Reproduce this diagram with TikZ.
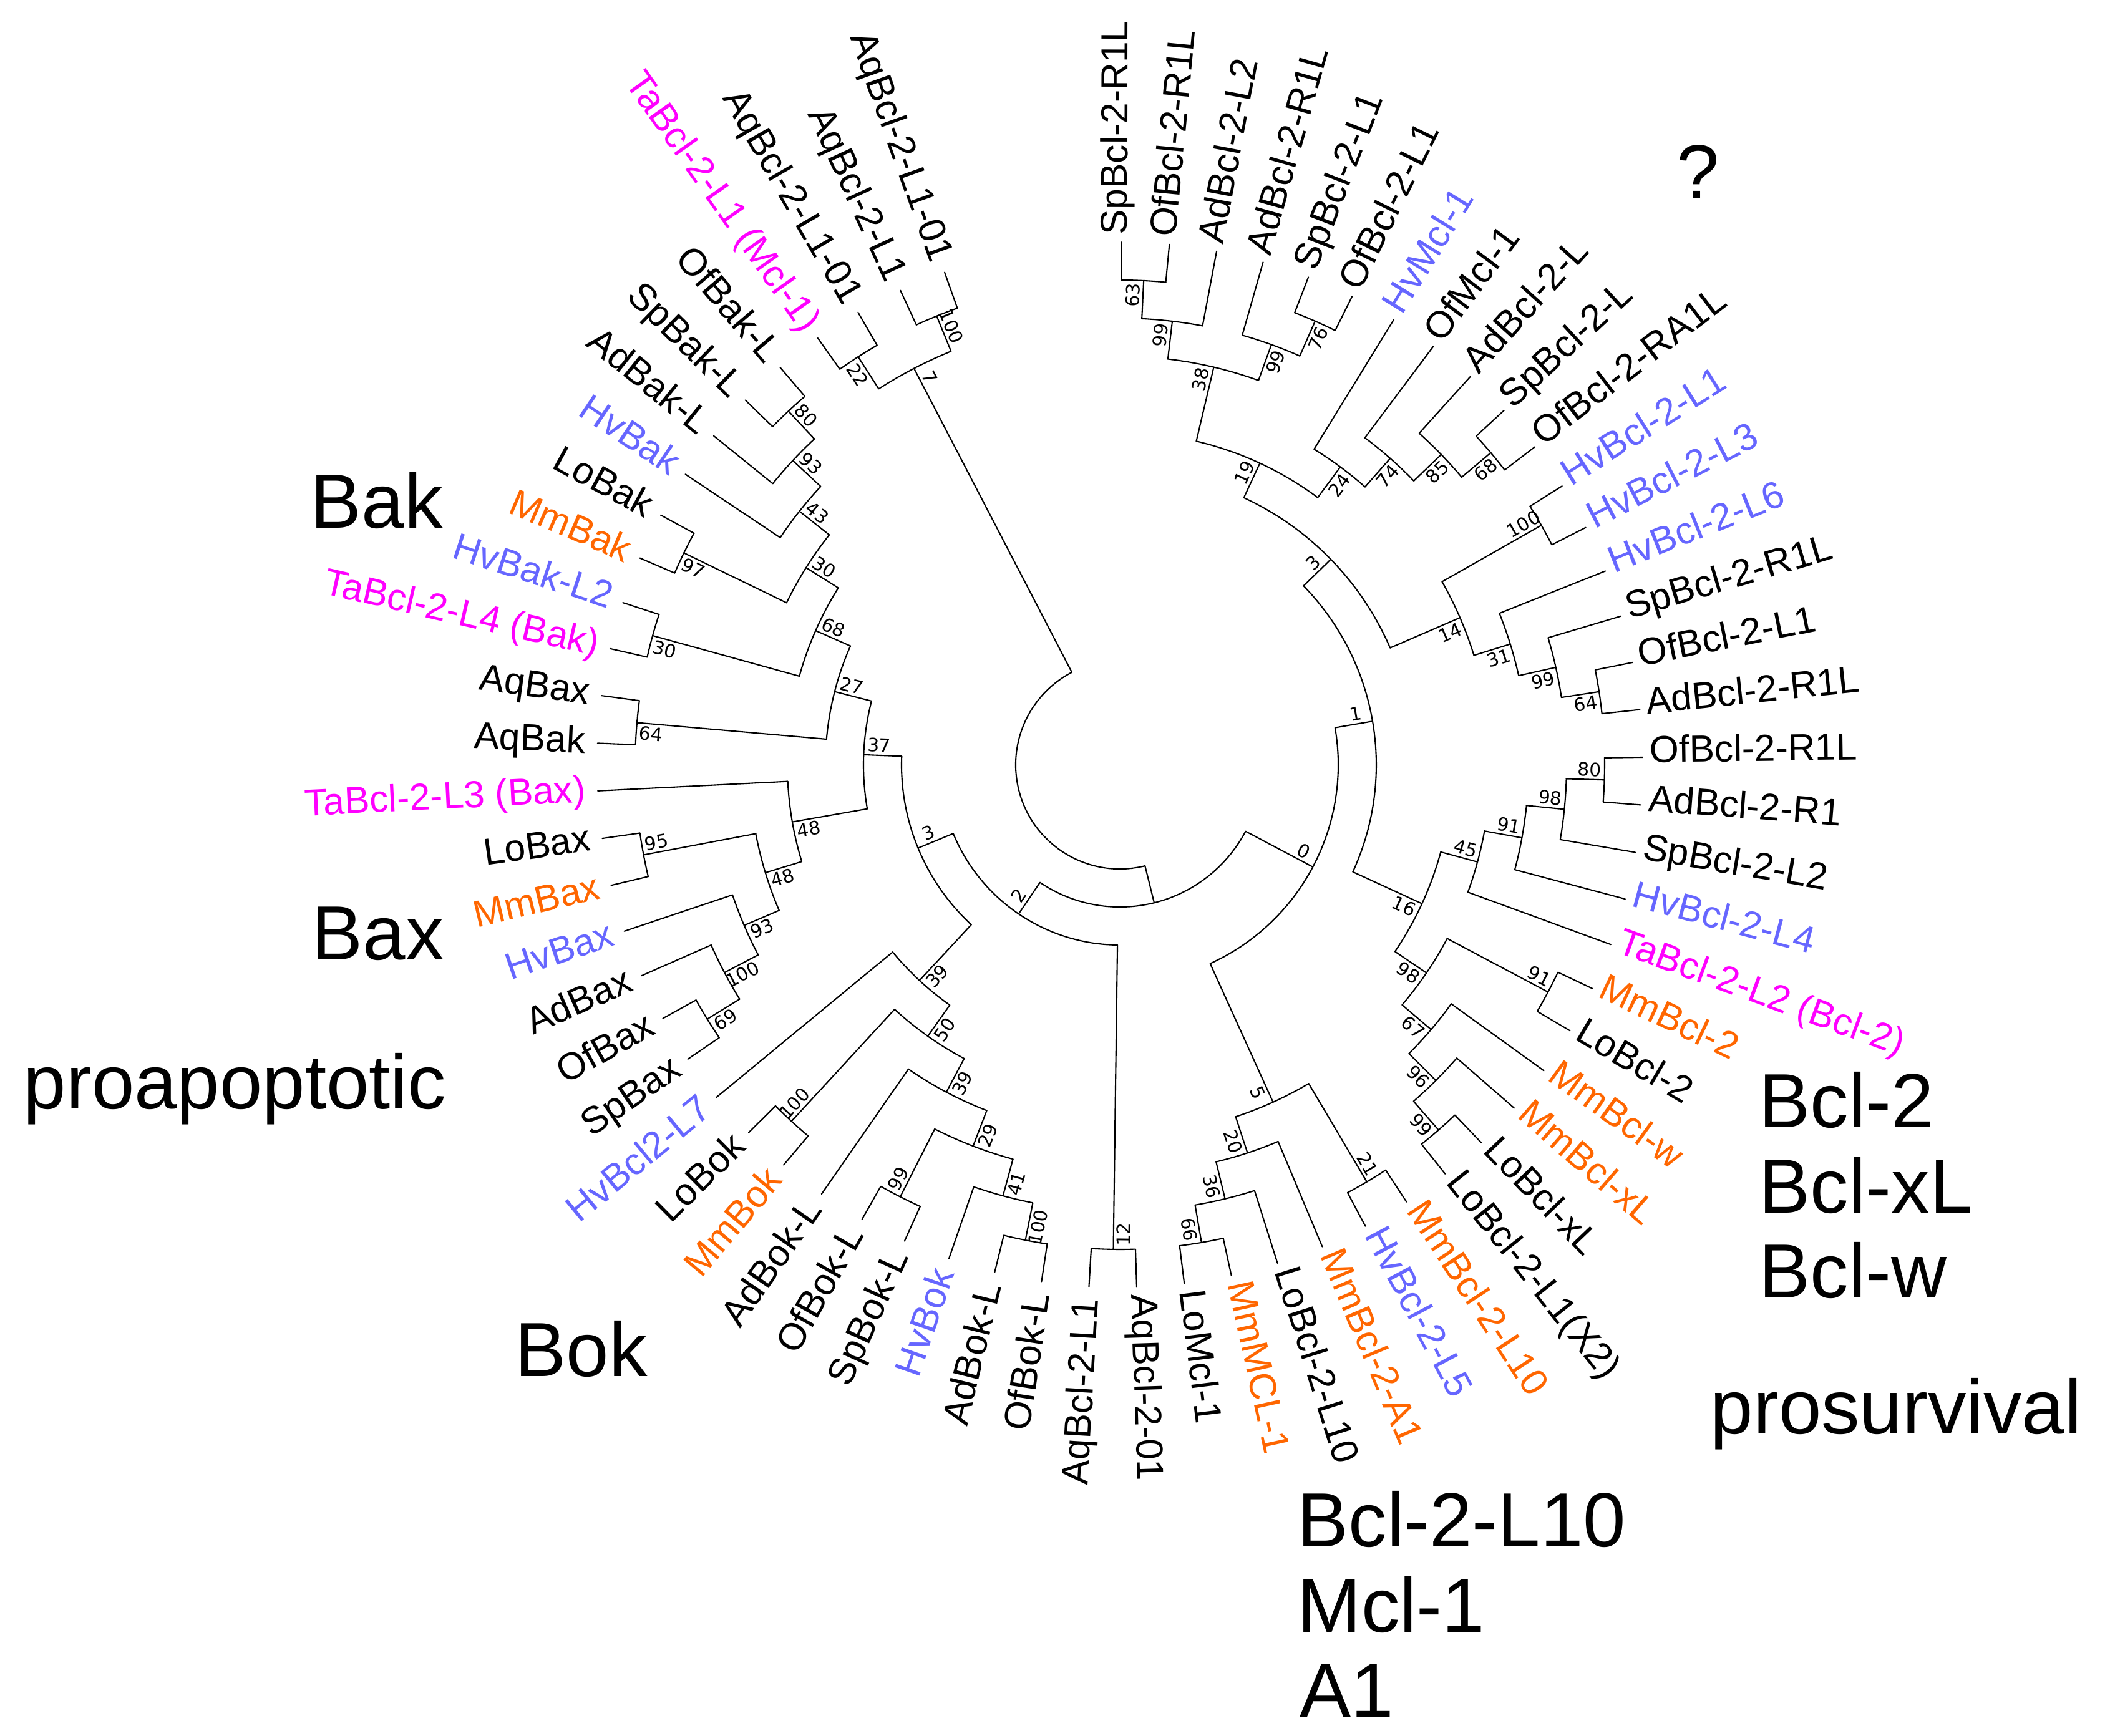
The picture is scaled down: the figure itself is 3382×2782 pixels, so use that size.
\documentclass[tikz,border=0pt]{standalone}
\usepackage{fontspec}
\setmainfont{Liberation Sans}
\newfontfamily\bootfont{DejaVu Sans}
\definecolor{hvblue}{RGB}{102,102,255}
\definecolor{mmorange}{RGB}{255,102,0}
\definecolor{tamagenta}{RGB}{255,0,255}
\tikzset{
  branch/.style={line width=0.6pt, line cap=round, line join=round},
  leaf/.style={inner sep=0pt, font=\fontsize{17.2}{20}\selectfont},
  boot/.style={inner sep=0pt, font=\bootfont\fontsize{8.4}{10}\selectfont},
  group/.style={inner sep=0pt, anchor=base west, font=\fontsize{35}{40}\selectfont}
}
\makeatletter
% a tip of the tree: name, position round the circle, colour, text
\newcommand\tipnode[4]{%
  \pgfmathsetmacro\tn@a{89.8-(#2-1)*5.234}%
  \expandafter\xdef\csname ang@#1\endcsname{\tn@a}%
  \expandafter\xdef\csname ht@#1\endcsname{0}%
  \expandafter\gdef\csname bs@#1\endcsname{}%
  \coordinate (#1) at (\tn@a:838);
  \ifdim\tn@a pt<-90pt
    \node[leaf,text=#3,anchor=east,rotate=\tn@a+180,text height=0.95em,text depth=0pt] (#1-lab) at (\tn@a:857) {#4};
  \else
    \node[leaf,text=#3,anchor=west,rotate=\tn@a,text height=0.6em,text depth=0.1em] (#1-lab) at (\tn@a:849) {#4};
  \fi
}
% bootstrap value beside the stem of a clade
\newcommand\bootlabel[2]{%
  \edef\bl@v{\csname bs@#1\endcsname}%
  \ifx\bl@v\empty\else
    \pgfmathsetmacro\bl@a{\csname ang@#1\endcsname}%
    \pgfmathsetmacro\bl@r{\csname rad@#1\endcsname-24}%
    \pgfmathsetmacro\bl@t{\bl@a+(#2)*deg(16/\bl@r)}%
    \ifdim\bl@a pt<-90pt\pgfmathsetmacro\bl@o{\bl@a+180}\else\let\bl@o\bl@a\fi
    \node[boot,rotate=\bl@o] (#1-bs) at (\bl@t:\bl@r) {\bl@v};
  \fi
}
% a clade: name, bootstrap, first child, last child
\newcommand\cladenode[4]{%
  \pgfmathsetmacro\cn@a{\csname ang@#3\endcsname}%
  \pgfmathsetmacro\cn@b{\csname ang@#4\endcsname}%
  \pgfmathsetmacro\cn@m{(\cn@a+\cn@b)/2}%
  \pgfmathsetmacro\cn@h{max(\csname ht@#3\endcsname,\csname ht@#4\endcsname)+1}%
  \pgfmathsetmacro\cn@r{838-61*\cn@h}%
  \expandafter\xdef\csname ang@#1\endcsname{\cn@m}%
  \expandafter\xdef\csname ht@#1\endcsname{\cn@h}%
  \expandafter\xdef\csname rad@#1\endcsname{\cn@r}%
  \expandafter\gdef\csname bs@#1\endcsname{#2}%
  \coordinate (#1) at (\cn@m:\cn@r);
  \draw[branch] (\cn@a:\cn@r) coordinate (#1-a)
    arc[start angle=\cn@a, end angle=\cn@b, radius=\cn@r] coordinate (#1-b);
  \draw[branch] (#1-a) -- (#3);
  \draw[branch] (#1-b) -- (#4);
  \bootlabel{#3}{1}%
  \bootlabel{#4}{-1}%
}
\makeatother

\begin{document}
\begin{tikzpicture}[x=0.1mm, y=0.1mm]
\useasboundingbox (-1795,-1556) rectangle (1587,1226);

% tips, clockwise from the top
\foreach \i/\leafcol/\leaftext in {
  1/black/SpBcl-2-R1L, 2/black/OfBcl-2-R1L, 3/black/AdBcl-2-L2,
  4/black/AdBcl-2-R1L, 5/black/SpBcl-2-L1, 6/black/OfBcl-2-L1,
  7/hvblue/HvMcl-1, 8/black/OfMcl-1, 9/black/AdBcl-2-L,
  10/black/SpBcl-2-L, 11/black/OfBcl-2-RA1L, 12/hvblue/HvBcl-2-L1,
  13/hvblue/HvBcl-2-L3, 14/hvblue/HvBcl-2-L6, 15/black/SpBcl-2-R1L,
  16/black/OfBcl-2-L1, 17/black/AdBcl-2-R1L, 18/black/OfBcl-2-R1L,
  19/black/AdBcl-2-R1, 20/black/SpBcl-2-L2, 21/hvblue/HvBcl-2-L4,
  22/tamagenta/TaBcl-2-L2 (Bcl-2), 23/mmorange/MmBcl-2, 24/black/LoBcl-2,
  25/mmorange/MmBcl-w, 26/mmorange/MmBcl-xL, 27/black/LoBcl-xL,
  28/black/LoBcl-2-L1(X2), 29/mmorange/MmBcl-2-L10, 30/hvblue/HvBcl-2-L5,
  31/mmorange/MmBcl-2-A1, 32/black/LoBcl-2-L10, 33/mmorange/MmMCL-1,
  34/black/LoMcl-1, 35/black/AqBcl-2-01, 36/black/AqBcl-2-L1,
  37/black/OfBok-L, 38/black/AdBok-L, 39/hvblue/HvBok,
  40/black/SpBok-L, 41/black/OfBok-L, 42/black/AdBok-L,
  43/mmorange/MmBok, 44/black/LoBok, 45/hvblue/HvBcl2-L7,
  46/black/SpBax, 47/black/OfBax, 48/black/AdBax,
  49/hvblue/HvBax, 50/mmorange/MmBax, 51/black/LoBax,
  52/tamagenta/TaBcl-2-L3 (Bax), 53/black/AqBak, 54/black/AqBax,
  55/tamagenta/TaBcl-2-L4 (Bak), 56/hvblue/HvBak-L2, 57/mmorange/MmBak,
  58/black/LoBak, 59/hvblue/HvBak, 60/black/AdBak-L,
  61/black/SpBak-L, 62/black/OfBak-L, 63/tamagenta/TaBcl-2-L1 (Mcl-1),
  64/black/AqBcl-2-L1-01, 65/black/AqBcl-2-L1, 66/black/AqBcl-2-L1-01}
  {\tipnode{t\i}{\i}{\leafcol}{\leaftext}}

% "?" clade
\cladenode{c63}{63}{t1}{t2}
\cladenode{c99a}{99}{c63}{t3}
\cladenode{c76}{76}{t5}{t6}
\cladenode{c99b}{99}{t4}{c76}
\cladenode{c38}{38}{c99a}{c99b}
\cladenode{c68a}{68}{t10}{t11}
\cladenode{c85}{85}{t9}{c68a}
\cladenode{c74}{74}{t8}{c85}
\cladenode{c24}{24}{t7}{c74}
\cladenode{c19}{19}{c38}{c24}
\cladenode{c100a}{100}{t12}{t13}
\cladenode{c64a}{64}{t16}{t17}
\cladenode{c99c}{99}{t15}{c64a}
\cladenode{c31}{31}{t14}{c99c}
\cladenode{c14}{14}{c100a}{c31}
\cladenode{c3a}{3}{c19}{c14}
% Bcl-2 / Bcl-xL / Bcl-w
\cladenode{c80a}{80}{t18}{t19}
\cladenode{c98a}{98}{c80a}{t20}
\cladenode{c91a}{91}{c98a}{t21}
\cladenode{c45}{45}{c91a}{t22}
\cladenode{c91b}{91}{t23}{t24}
\cladenode{c99d}{99}{t27}{t28}
\cladenode{c96}{96}{t26}{c99d}
\cladenode{c67}{67}{t25}{c96}
\cladenode{c98b}{98}{c91b}{c67}
\cladenode{c16}{16}{c45}{c98b}
\cladenode{c1}{1}{c3a}{c16}
% Bcl-2-L10 / Mcl-1 / A1
\cladenode{c21}{21}{t29}{t30}
\cladenode{c66}{66}{t33}{t34}
\cladenode{c36}{36}{t32}{c66}
\cladenode{c20}{20}{t31}{c36}
\cladenode{c5}{5}{c21}{c20}
\cladenode{c0}{0}{c1}{c5}
% Bok
\cladenode{c12}{12}{t35}{t36}
\cladenode{c100b}{100}{t37}{t38}
\cladenode{c41}{41}{c100b}{t39}
\cladenode{c99e}{99}{t40}{t41}
\cladenode{c29}{29}{c41}{c99e}
\cladenode{c39a}{39}{c29}{t42}
\cladenode{c100c}{100}{t43}{t44}
\cladenode{c50}{50}{c39a}{c100c}
\cladenode{c39b}{39}{c50}{t45}
% Bax and Bak
\cladenode{c69}{69}{t46}{t47}
\cladenode{c100d}{100}{c69}{t48}
\cladenode{c93a}{93}{c100d}{t49}
\cladenode{c95}{95}{t50}{t51}
\cladenode{c48a}{48}{c93a}{c95}
\cladenode{c48b}{48}{c48a}{t52}
\cladenode{c64b}{64}{t53}{t54}
\cladenode{c30a}{30}{t55}{t56}
\cladenode{c97}{97}{t57}{t58}
\cladenode{c80b}{80}{t61}{t62}
\cladenode{c93b}{93}{t60}{c80b}
\cladenode{c43}{43}{t59}{c93b}
\cladenode{c30b}{30}{c97}{c43}
\cladenode{c68b}{68}{c30a}{c30b}
\cladenode{c27}{27}{c64b}{c68b}
\cladenode{c37}{37}{c48b}{c27}
\cladenode{c3b}{3}{c39b}{c37}
\cladenode{c2}{2}{c12}{c3b}
\cladenode{cX}{}{c0}{c2}
% Mcl-1 like
\cladenode{c22}{22}{t63}{t64}
\cladenode{c100e}{100}{t65}{t66}
\cladenode{c7}{7}{c22}{c100e}
\cladenode{croot}{}{cX}{c7}

% family names
\node[group] (qmark) at (892,907) {?};
\node[group] (bak) at (-1298,380) {Bak};
\node[group] (bax) at (-1296,-312) {Bax};
\node[group] (proapo) at (-1758,-551) {proapoptotic};
\node[group] (bok) at (-970,-980) {Bok};
\node[group] (bcltwo) at (1024,-581) {Bcl-2};
\node[group] (bclxl) at (1024,-718) {Bcl-xL};
\node[group] (bclw) at (1024,-854) {Bcl-w};
\node[group] (prosurv) at (946,-1072) {prosurvival};
\node[group] (bclten) at (284,-1253) {Bcl-2-L10};
\node[group] (mclone) at (284,-1390) {Mcl-1};
\node[group] (aone) at (288,-1526) {A1};
\end{tikzpicture}
\end{document}
